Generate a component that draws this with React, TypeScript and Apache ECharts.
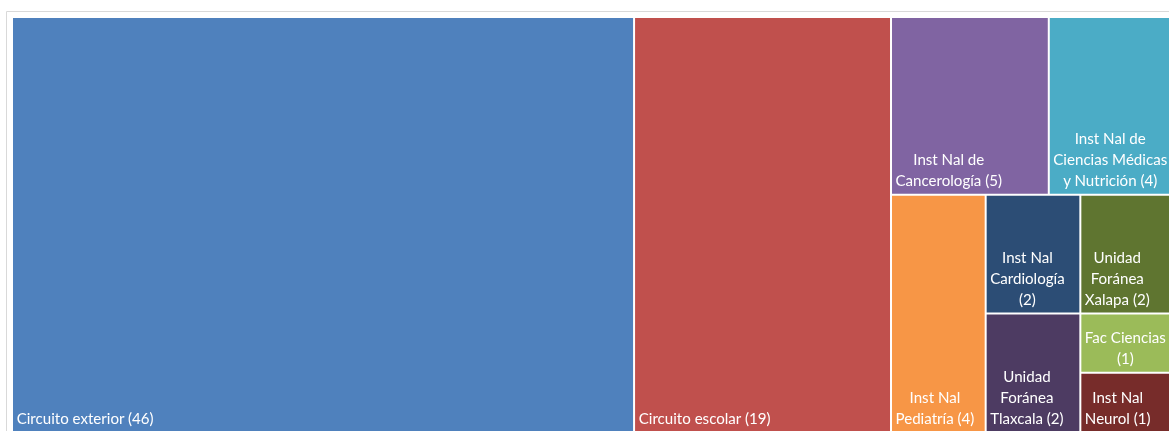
import React, { useEffect, useRef } from "react";
import * as echarts from "echarts";

// ---- data (order = layout order, largest first) ----
const categories = [
  "Circuito exterior",
  "Circuito escolar",
  "Inst Nal de Cancerología",
  "Inst Nal de Ciencias Médicas y Nutrición",
  "Inst Nal Pediatría",
  "Inst Nal Cardiología",
  "Unidad Foránea Xalapa",
  "Unidad Foránea Tlaxcala",
  "Fac Ciencias",
  "Inst Nal Neurol",
];
const values = [46, 19, 5, 4, 4, 2, 2, 2, 1, 1];
const colors = [
  "#4F81BD",
  "#C0504D",
  "#8064A2",
  "#4BACC6",
  "#F79646",
  "#2C4D75",
  "#5F7530",
  "#4D3B62",
  "#9BBB59",
  "#772C2A",
];
// wrapped label lines, '#' is replaced by the value
const labelLines = [
  ["Circuito exterior (#)"],
  ["Circuito escolar (#)"],
  ["Inst Nal de", "Cancerología (#)"],
  ["Inst Nal de", "Ciencias Médicas", "y Nutrición (#)"],
  ["Inst Nal", "Pediatría (#)"],
  ["Inst Nal", "Cardiología", "(#)"],
  ["Unidad", "Foránea", "Xalapa (#)"],
  ["Unidad", "Foránea", "Tlaxcala (#)"],
  ["Fac Ciencias", "(#)"],
  ["Inst Nal", "Neurol (#)"],
];

const FONT_SIZE = 15.1;
const FONT_FAMILY = "Lato";

function measure(text: string): number {
  const c = document.createElement("canvas");
  const ctx = c.getContext("2d");
  if (!ctx) return text.length * FONT_SIZE * 0.5;
  ctx.font = `${FONT_SIZE}px ${FONT_FAMILY}`;
  return ctx.measureText(text).width;
}

export default function App() {
  const ref = useRef<HTMLDivElement>(null);

  useEffect(() => {
    if (!ref.current) return;
    const chart = echarts.init(ref.current, null, { renderer: "svg" });

    const data = categories.map((name, i) => {
      const lines = labelLines[i].map((l) => l.replace("#", String(values[i])));
      const w = Math.max(...lines.map(measure));
      return {
        name,
        value: values[i],
        itemStyle: { color: colors[i] },
        label: {
          formatter: lines.join("\n"),
          offset: [w / 2 + 1.5, 4],
        },
      };
    });

    chart.setOption({
      animation: false,
      graphic: [
        {
          type: "rect",
          shape: { x: 6.5, y: 11.5, width: 1300, height: 600 },
          style: { fill: "none", stroke: "#D9D9D9", lineWidth: 1 },
          silent: true,
          z: -1,
        },
      ],
      series: [
        {
          type: "treemap",
          left: 13,
          top: 18,
          width: 1161,
          height: 413,
          sort: false,
          squareRatio: 0.78,
          roam: false,
          nodeClick: false,
          breadcrumb: { show: false },
          visibleMin: 0,
          itemStyle: { gapWidth: 2, borderWidth: 0, borderColor: "#fff" },
          label: {
            show: true,
            position: "insideBottomLeft",
            distance: 2,
            align: "center",
            color: "#fff",
            fontSize: FONT_SIZE,
            fontFamily: FONT_FAMILY,
            lineHeight: 21,
            textBorderWidth: 0,
            overflow: "none",
          },
          upperLabel: { show: false },
          emphasis: { disabled: true },
          data,
        },
      ],
    });

    return () => chart.dispose();
  }, []);

  return (
    <div
      ref={ref}
      style={{ position: "fixed", left: 0, top: 0, width: 1169, height: 431 }}
    />
  );
}
